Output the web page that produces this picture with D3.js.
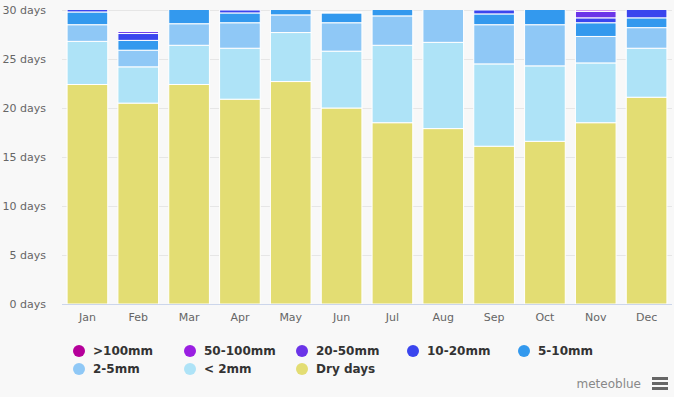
<!DOCTYPE html>
<html>
<head>
<meta charset="utf-8">
<script src="https://cdn.jsdelivr.net/npm/d3@7"></script>
<style>
html,body{margin:0;padding:0;background:#f8f8f8;}
svg{display:block;font-family:"DejaVu Sans",Verdana,sans-serif;}
</style>
</head>
<body>
<svg id="chart" width="674" height="397"></svg>
<script>
const months = ["Jan","Feb","Mar","Apr","May","Jun","Jul","Aug","Sep","Oct","Nov","Dec"];
const yTicks = [0,5,10,15,20,25,30];
const seriesNames = ["Dry days","< 2mm","2-5mm","5-10mm","10-20mm","20-50mm","50-100mm",">100mm"];
const seriesColors = ["#e3dd73","#aee3f7","#8fc8f6","#3399ee","#3a45ee","#6b34e8","#9a1fe2","#b5009a"];
const legendOrder = [">100mm","50-100mm","20-50mm","10-20mm","5-10mm","2-5mm","< 2mm","Dry days"];

const dryDays   = [22.4,20.5,22.4,20.9,22.7,20.0,18.5,17.9,16.1,16.6,18.5,21.1];
const lt2mm     = [4.4,3.7,4.0,5.2,5.0,5.8,7.9,8.8,8.4,7.7,6.1,5.0];
const mm2to5    = [1.7,1.7,2.2,2.6,1.8,2.9,3.0,3.5,4.0,4.2,2.7,2.1];
const mm5to10   = [1.3,1.0,1.6,1.0,1.2,1.0,1.3,0.8,1.1,1.8,1.4,1.0];
const mm10to20  = [0.8,0.7,0.6,0.3,0.3,0.1,0.3,0.0,0.4,0.7,0.5,1.2];
const mm20to50  = [0.4,0.2,0.2,0.0,0.0,0.0,0.0,0.0,0.0,0.0,0.65,0.5];
const mm50to100 = [0,0,0,0,0,0,0,0,0,0,0.15,0.1];
const mmOver100 = [0,0,0,0,0,0,0,0,0,0,0,0];

const seriesValues = [dryDays,lt2mm,mm2to5,mm5to10,mm10to20,mm20to50,mm50to100,mmOver100];

const rows = months.map((m,i)=>{
  const r = {month:m};
  seriesNames.forEach((s,k)=>{ r[s] = seriesValues[k][i]; });
  return r;
});

const svg = d3.select("#chart");
const pLeft = 62, pRight = 672, pTop = 10, pBottom = 304;

const x = d3.scaleBand().domain(months).range([pLeft,pRight]).paddingInner(0.2).paddingOuter(0.1);
const y = d3.scaleLinear().domain([0,30]).range([pBottom,pTop]);
const color = d3.scaleOrdinal().domain(seriesNames).range(seriesColors);

// gridlines
svg.append("g").selectAll("line").data(yTicks).join("line")
  .attr("x1",pLeft).attr("x2",pRight)
  .attr("y1",d=>y(d)+0.5).attr("y2",d=>y(d)+0.5)
  .attr("stroke","#e6e6e6").attr("stroke-width",1);

// y axis labels
const yAxis = svg.append("g").attr("transform",`translate(${pLeft},0)`)
  .call(d3.axisLeft(y).tickValues(yTicks).tickSize(0).tickPadding(16).tickFormat(d=>d+" days"));
yAxis.select(".domain").remove();
yAxis.selectAll("text").attr("fill","#666").attr("font-size","11px").attr("font-family","DejaVu Sans, sans-serif");

// clip
svg.append("clipPath").attr("id","plotclip").append("rect")
  .attr("x",pLeft).attr("y",pTop).attr("width",pRight-pLeft).attr("height",pBottom-pTop);

const stacked = d3.stack().keys(seriesNames)(rows);

const gBars = svg.append("g").attr("clip-path","url(#plotclip)");
gBars.selectAll("g").data(stacked).join("g")
  .attr("fill",d=>color(d.key))
  .selectAll("rect").data(d=>d.filter(p=>p[1]-p[0]>0)).join("rect")
  .attr("x",d=>x(d.data.month))
  .attr("width",x.bandwidth())
  .attr("y",d=>y(d[1]))
  .attr("height",d=>Math.max(0,y(d[0])-y(d[1])))
  .attr("stroke","#ffffff").attr("stroke-width",1);

// x axis
const xAxis = svg.append("g").attr("transform",`translate(0,${pBottom})`)
  .call(d3.axisBottom(x).tickSize(0).tickPadding(9));
xAxis.select(".domain").attr("stroke","#ccd6eb").attr("d",`M${pLeft},0.5H${pRight}`);
xAxis.selectAll("text").attr("fill","#666").attr("font-size","11px").attr("font-family","DejaVu Sans, sans-serif");

// legend
const legCols = [79,190,302,413,524];
const legRows = [351,369];
const leg = svg.append("g").selectAll("g").data(legendOrder).join("g")
  .attr("transform",(d,i)=>`translate(${legCols[i%5]},${legRows[Math.floor(i/5)]})`);
leg.append("circle").attr("r",6).attr("fill",d=>color(d));
leg.append("text").attr("x",14).attr("dy","0.35em")
  .attr("font-size","12px").attr("font-weight","bold").attr("fill","#333")
  .text(d=>d);

// credit
svg.append("text").attr("x",641).attr("y",388).attr("text-anchor","end")
  .attr("font-size","12px").attr("fill","#888").text("meteoblue");
svg.append("g").selectAll("rect").data([0,1,2]).join("rect")
  .attr("x",652).attr("y",d=>377+d*5).attr("width",16).attr("height",3).attr("fill","#666");
</script>
</body>
</html>
